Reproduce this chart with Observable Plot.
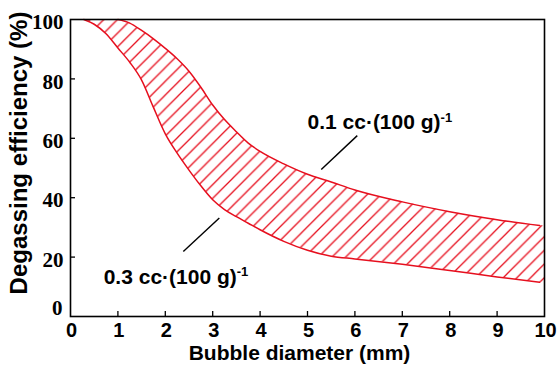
<!DOCTYPE html>
<html>
<head>
<meta charset="utf-8">
<script src="https://cdn.jsdelivr.net/npm/d3@7"></script>
<script src="https://cdn.jsdelivr.net/npm/@observablehq/plot@0.6"></script>
<style>
  html, body { margin: 0; padding: 0; background: #fff; }
  #chart { width: 560px; height: 365px; }
</style>
</head>
<body>
<div id="chart"></div>
<script>
// Bubble diameter (mm)
const diameter = [0.28, 0.5, 0.75, 1, 1.25, 1.5, 1.75, 2, 2.25, 2.5, 2.75, 3, 3.25, 3.5, 3.75, 4, 4.5, 5, 5.5, 6, 7, 8, 9, 9.9, 10];
// Degassing efficiency (%) for 0.1 cc·(100 g)^-1 (upper curve, starts at 1 mm)
const eff01 = [null, null, null, 100, 98.8, 96.3, 93.5, 90.3, 86.8, 82.6, 77.2, 71.2, 66.3, 62.2, 58.4, 55.6, 51.4, 47.9, 45.3, 42.6, 38.6, 35.3, 32.6, 30.6, 30.4];
// Degassing efficiency (%) for 0.3 cc·(100 g)^-1 (lower curve)
const eff03 = [100, 98.4, 95.2, 90.4, 85.6, 79.6, 70.4, 61.5, 55.0, 49.3, 44.0, 39.3, 36.0, 33.6, 31.4, 29.2, 25.3, 22.3, 20.3, 19.4, 17.6, 15.5, 13.3, 11.5, 11.3];
const lineEnd = 9.9;

const xTicks = [0, 1, 2, 3, 4, 5, 6, 7, 8, 9, 10];
const yTicks = [0, 20, 40, 60, 80, 100];

const xLabel = "Bubble diameter (mm)";
const yLabel = "Degassing efficiency (%)";

const labels = [
  {text: "0.1 cc·(100 g)", x: 5.0, y: 63.0},
  {text: "0.3 cc·(100 g)", x: 0.70, y: 11.1}
];
const leaders = [
  {x1: 5.29, y1: 49.5, x2: 6.05, y2: 60.9},
  {x1: 2.38, y1: 21.9, x2: 3.14, y2: 33.2}
];

const rows = diameter.map((x, i) => ({x, hi: eff01[i], lo: eff03[i], hiFill: eff01[i] ?? 100}));
const lineRows = rows.filter(d => d.x <= lineEnd);

const RED = "#e60f1e";
const W = 560, H = 365, mL = 70, mR = 16, mT = 19, mB = 49;
const innerW = W - mL - mR, innerH = H - mT - mB;

const sans = "'Liberation Sans', Arial, Helvetica, sans-serif";
const serif = "'Liberation Serif', 'Times New Roman', serif";

const chart = Plot.plot({
  width: W, height: H,
  marginLeft: mL, marginRight: mR, marginTop: mT, marginBottom: mB,
  x: {domain: [0, 10], axis: null},
  y: {domain: [0, 100], axis: null},
  style: {fontFamily: sans, background: "white", color: "black", overflow: "visible"},
  marks: [
    Plot.areaY(rows, {x: "x", y1: "lo", y2: "hiFill", curve: "monotone-x", fill: "url(#hatch)"}),
    Plot.line(lineRows, {x: "x", y: "lo", curve: "monotone-x", stroke: RED, strokeWidth: 1.5}),
    Plot.line(lineRows.filter(d => d.hi != null), {x: "x", y: "hi", curve: "monotone-x", stroke: RED, strokeWidth: 1.5}),
    Plot.tickX(xTicks.slice(1, -1), {x: d => d, insetTop: innerH - 5, stroke: "black", strokeWidth: 1.3}),
    Plot.tickY(yTicks.slice(1, -1), {y: d => d, insetRight: innerW - 5, stroke: "black", strokeWidth: 1.3}),
    Plot.frame({stroke: "black", strokeWidth: 1.6}),
    Plot.text(xTicks, {x: d => d, y: 0, dy: 14, dx: 1, text: d => String(d), fontSize: 20, fontWeight: "bold", fontFamily: sans}),
    Plot.text(yTicks.filter(d => d !== 0), {x: 0, y: d => d, dx: -7, dy: 3, textAnchor: "end", text: d => String(d), fontSize: 21, fontWeight: "bold", fontFamily: serif}),
    Plot.text(yTicks.filter(d => d === 0), {x: 0, y: d => d, dx: -8, dy: -8, textAnchor: "end", text: d => String(d), fontSize: 21, fontWeight: "bold", fontFamily: serif}),
    Plot.text([xLabel], {frameAnchor: "bottom", dx: -8, dy: 43, text: d => d, fontSize: 21, fontWeight: "bold", fontFamily: sans}),
    Plot.text([yLabel], {frameAnchor: "left", dx: -51, dy: -15, rotate: -90, textAnchor: "middle", text: d => d, fontSize: 24, fontWeight: "bold", fontFamily: sans}),
    Plot.link(leaders, {x1: "x1", y1: "y1", x2: "x2", y2: "y2", stroke: "black", strokeWidth: 1.4}),
    Plot.text(labels, {x: "x", y: "y", text: "text", textAnchor: "start", lineAnchor: "bottom", fontSize: 21, fontWeight: "bold", fontFamily: sans})
  ]
});

// hatch pattern
const ns = "http://www.w3.org/2000/svg";
const svg = chart.tagName.toLowerCase() === "svg" ? chart : chart.querySelector("svg");
const defs = document.createElementNS(ns, "defs");
const s = 13.7;
const pat = document.createElementNS(ns, "pattern");
pat.setAttribute("id", "hatch");
pat.setAttribute("patternUnits", "userSpaceOnUse");
pat.setAttribute("width", s);
pat.setAttribute("height", s);
const p = document.createElementNS(ns, "path");
p.setAttribute("d", `M0,${s} L${s},0 M${-3},3 L3,${-3} M${s - 3},${s + 3} L${s + 3},${s - 3}`);
p.setAttribute("stroke", RED);
p.setAttribute("stroke-width", "1.3");
p.setAttribute("fill", "none");
pat.appendChild(p);
defs.appendChild(pat);
svg.insertBefore(defs, svg.firstChild);

// superscript -1 on the annotation labels
svg.querySelectorAll("text").forEach(t => {
  if (t.textContent.endsWith("(100 g)")) {
    const sup = document.createElementNS(ns, "tspan");
    sup.setAttribute("dy", "-0.55em");
    sup.setAttribute("font-size", "13");
    sup.textContent = "-1";
    t.appendChild(sup);
  }
});

document.getElementById("chart").appendChild(chart);
</script>
</body>
</html>
